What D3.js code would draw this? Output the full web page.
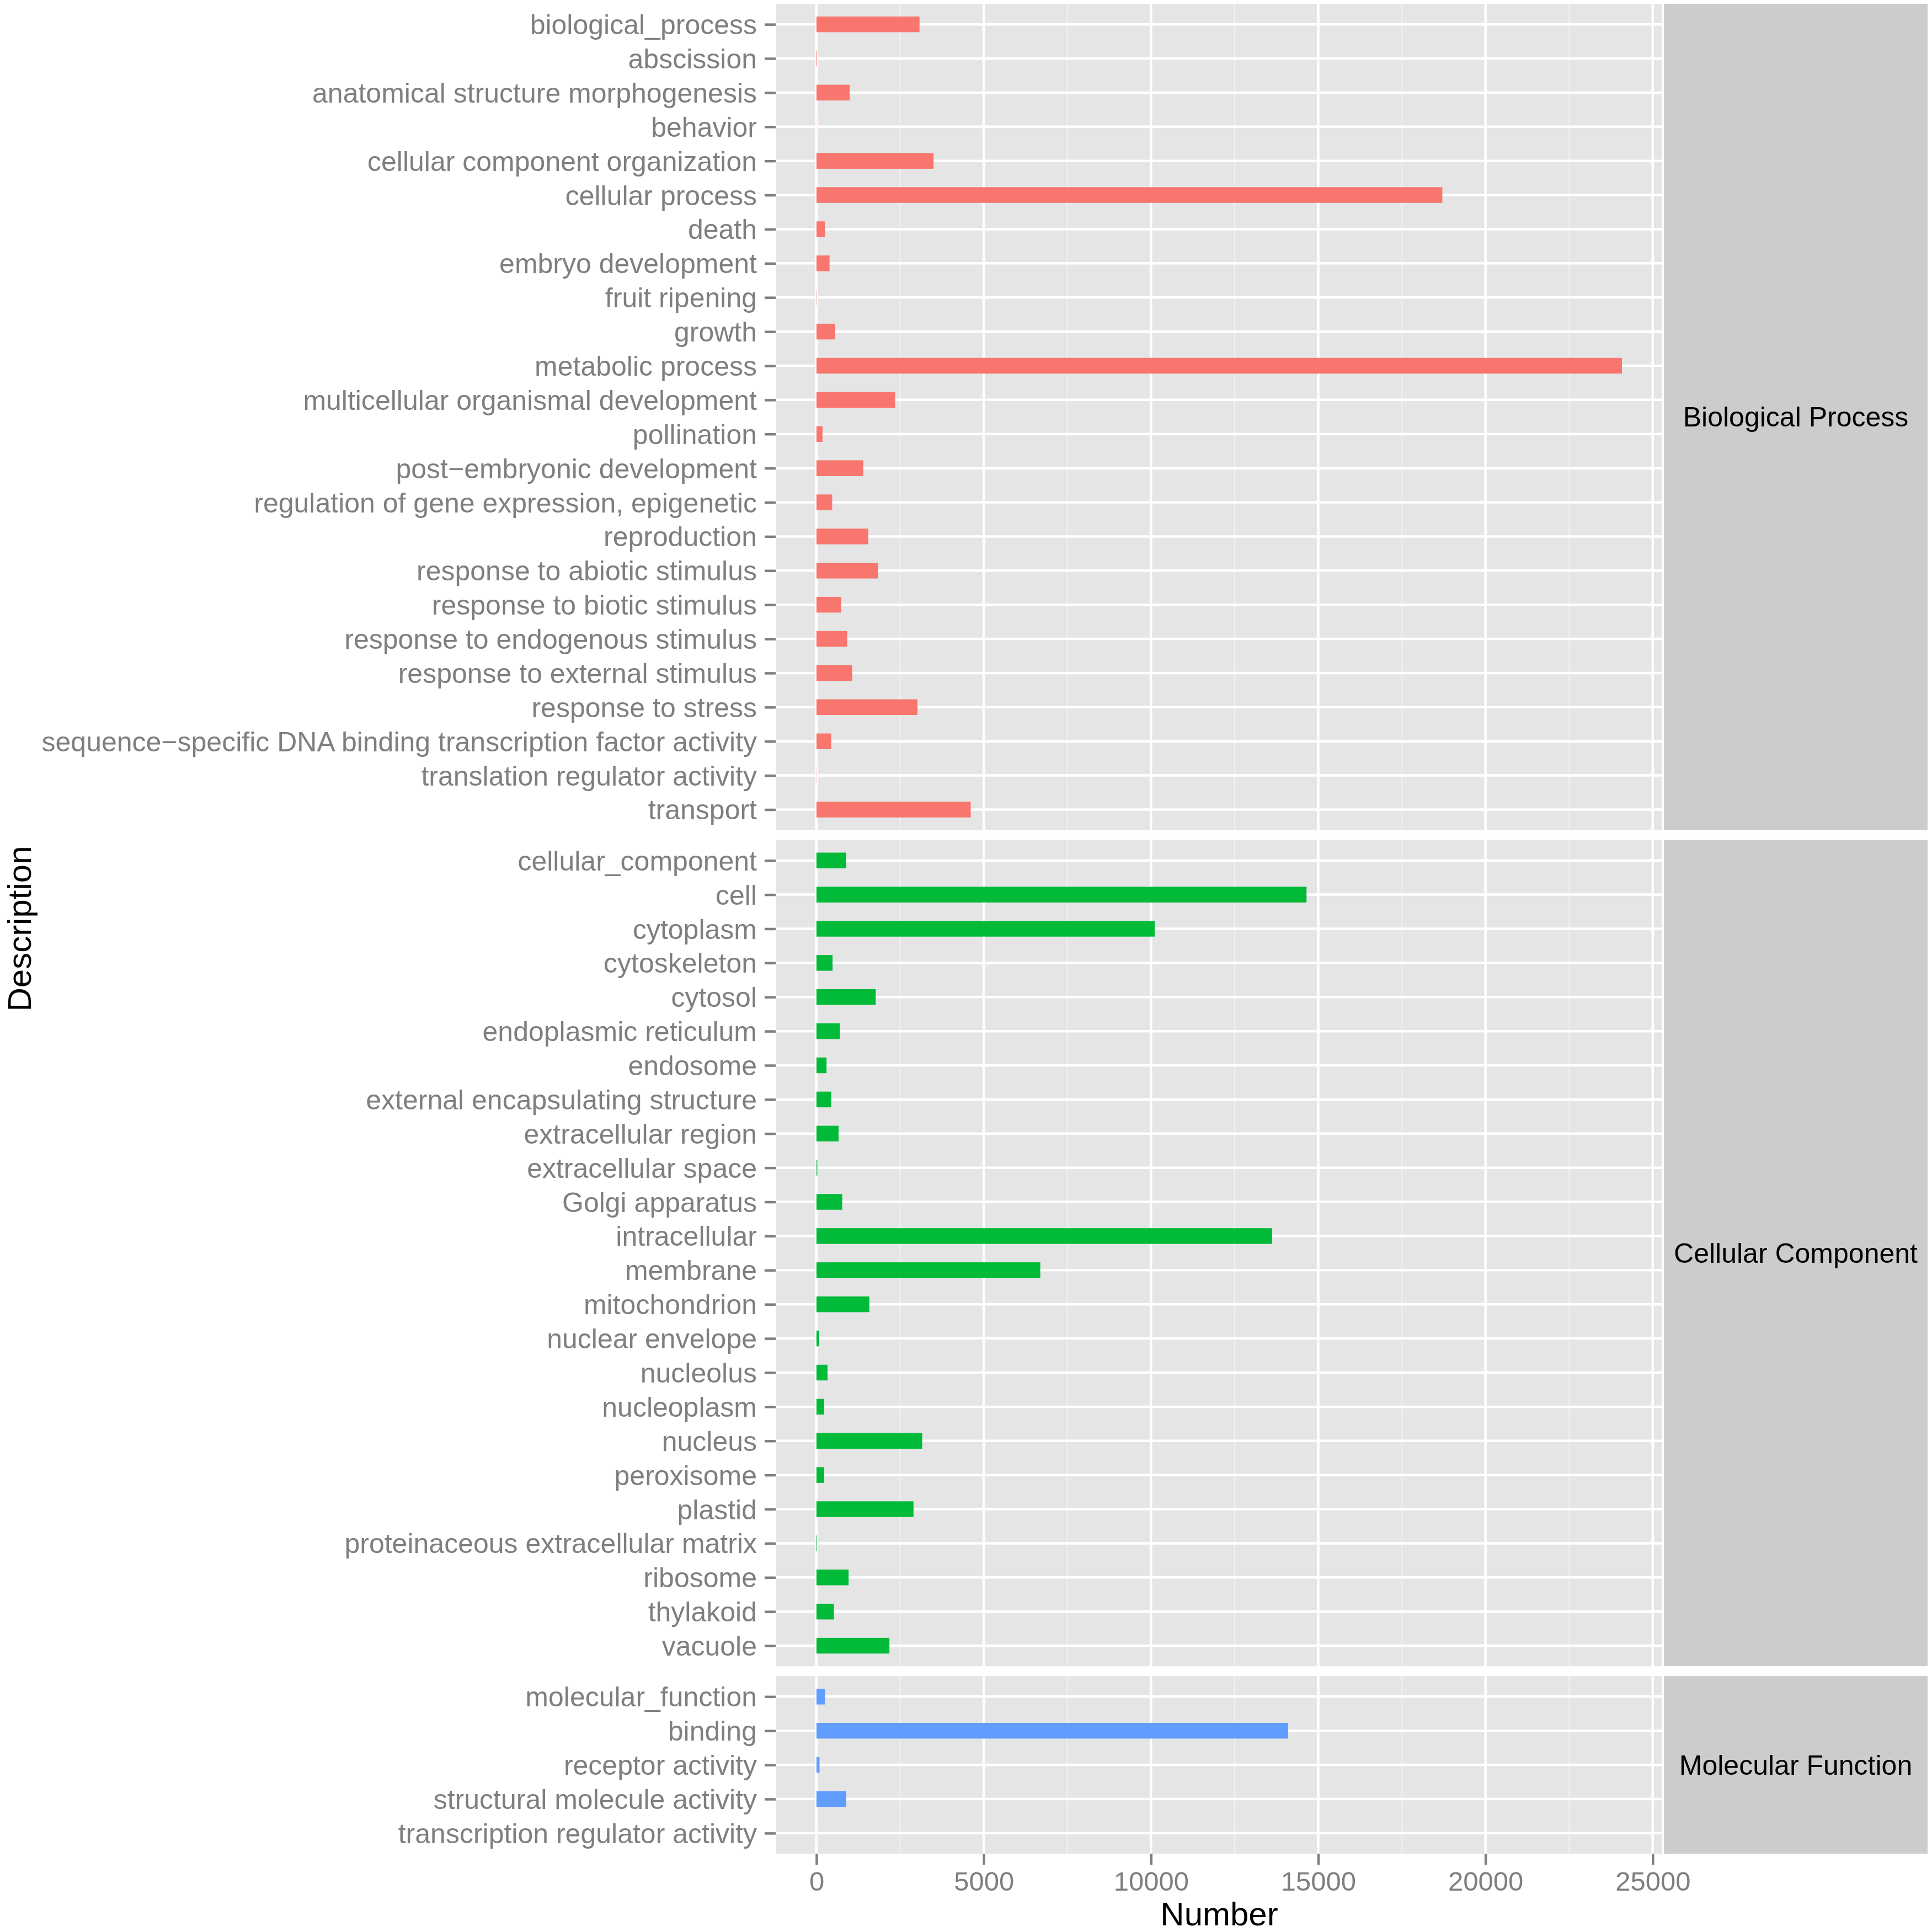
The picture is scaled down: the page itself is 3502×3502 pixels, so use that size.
<!DOCTYPE html>
<html><head><meta charset="utf-8">
<script src="https://cdn.jsdelivr.net/npm/d3@7"></script>
<style>html,body{margin:0;padding:0;background:#fff}</style>
</head><body>
<svg id="chart" width="3502" height="3502"></svg>
<script>
const ontologies = ["Biological Process", "Cellular Component", "Molecular Function"];
const ontologyColors = ["#F8766D", "#00BA38", "#619CFF"];

const bpTerms = ["biological_process","abscission","anatomical structure morphogenesis","behavior","cellular component organization","cellular process","death","embryo development","fruit ripening","growth","metabolic process","multicellular organismal development","pollination","post\u2212embryonic development","regulation of gene expression, epigenetic","reproduction","response to abiotic stimulus","response to biotic stimulus","response to endogenous stimulus","response to external stimulus","response to stress","sequence\u2212specific DNA binding transcription factor activity","translation regulator activity","transport"];
const bpValues = [3080,15,990,3,3500,18710,250,390,8,560,24080,2350,180,1400,470,1550,1840,740,920,1070,3020,440,5,4610];

const ccTerms = ["cellular_component","cell","cytoplasm","cytoskeleton","cytosol","endoplasmic reticulum","endosome","external encapsulating structure","extracellular region","extracellular space","Golgi apparatus","intracellular","membrane","mitochondrion","nuclear envelope","nucleolus","nucleoplasm","nucleus","peroxisome","plastid","proteinaceous extracellular matrix","ribosome","thylakoid","vacuole"];
const ccValues = [890,14650,10110,480,1770,700,300,440,660,25,770,13620,6690,1580,80,330,230,3160,230,2900,15,960,520,2180];

const mfTerms = ["molecular_function","binding","receptor activity","structural molecule activity","transcription regulator activity"];
const mfValues = [250,14100,90,890,2];

const xTicks = [0,5000,10000,15000,20000,25000];
const xMinor = [2500,7500,12500,17500,22500];

const groups = [
  {name: ontologies[0], terms: bpTerms, values: bpValues, color: ontologyColors[0]},
  {name: ontologies[1], terms: ccTerms, values: ccValues, color: ontologyColors[1]},
  {name: ontologies[2], terms: mfTerms, values: mfValues, color: ontologyColors[2]}
];

const svg = d3.select("#chart");
const FONT = "'Liberation Sans', Arial, Helvetica, sans-serif";
const L = 1407, R = 3013, TOP = 7, BOTTOM = 3360, GAP = 18;
const stripX0 = 3016, stripX1 = 3494;

const maxV = d3.max(groups.flatMap(g => g.values));
const x = d3.scaleLinear().domain([-0.05 * maxV, 1.05 * maxV]).range([L, R]);

const totalUnits = d3.sum(groups, g => g.terms.length - 1 + 1.2);
const unit = (BOTTOM - TOP - GAP * (groups.length - 1)) / totalUnits;

let yCursor = TOP;
groups.forEach(g => {
  const h = (g.terms.length - 1 + 1.2) * unit;
  const y0 = yCursor, y1 = yCursor + h;
  yCursor = y1 + GAP;
  const y = d3.scalePoint().domain(g.terms).range([y0, y1]).padding(0.6);
  const panel = svg.append("g");
  panel.append("rect").attr("x", L).attr("y", y0).attr("width", R - L).attr("height", h).attr("fill", "#E5E5E5");
  panel.selectAll(".minor").data(xMinor).enter().append("line")
    .attr("x1", d => x(d)).attr("x2", d => x(d)).attr("y1", y0).attr("y2", y1)
    .attr("stroke", "#F2F2F2").attr("stroke-width", 2);
  panel.selectAll(".majorx").data(xTicks).enter().append("line")
    .attr("x1", d => x(d)).attr("x2", d => x(d)).attr("y1", y0).attr("y2", y1)
    .attr("stroke", "#FFFFFF").attr("stroke-width", 4.5);
  panel.selectAll(".majory").data(g.terms).enter().append("line")
    .attr("x1", L).attr("x2", R).attr("y1", d => y(d)).attr("y2", d => y(d))
    .attr("stroke", "#FFFFFF").attr("stroke-width", 4.5);
  const bh = unit * 0.46;
  panel.selectAll(".bar").data(g.terms.map((t, i) => ({t, v: g.values[i]}))).enter().append("rect")
    .attr("x", x(0)).attr("y", d => y(d.t) - bh / 2)
    .attr("width", d => Math.max(0, x(d.v) - x(0))).attr("height", bh)
    .attr("fill", g.color);
  const yAxis = d3.axisLeft(y).tickSize(20).tickPadding(14);
  const ag = svg.append("g").attr("transform", `translate(${L - 1},0)`).call(yAxis);
  ag.select(".domain").remove();
  ag.selectAll(".tick line").attr("stroke", "#7F7F7F").attr("stroke-width", 4.5);
  ag.selectAll(".tick text").attr("fill", "#7F7F7F").attr("font-size", 50).attr("font-family", FONT).attr("dy", "0.35em");
  svg.append("rect").attr("x", stripX0).attr("y", y0).attr("width", stripX1 - stripX0).attr("height", h).attr("fill", "#CCCCCC");
  svg.append("text").attr("x", (stripX0 + stripX1) / 2).attr("y", (y0 + y1) / 2).attr("dy", "0.35em")
    .attr("text-anchor", "middle").attr("font-size", 50).attr("font-family", FONT).attr("fill", "#000")
    .text(g.name);
});

const xAxis = d3.axisBottom(x).tickValues(xTicks).tickSize(20).tickPadding(12).tickFormat(d3.format("d"));
const xg = svg.append("g").attr("transform", `translate(0,${BOTTOM})`).call(xAxis);
xg.select(".domain").remove();
xg.selectAll(".tick line").attr("stroke", "#7F7F7F").attr("stroke-width", 4.5);
xg.selectAll(".tick text").attr("fill", "#7F7F7F").attr("font-size", 49).attr("font-family", FONT);

svg.append("text").attr("x", (L + R) / 2).attr("y", 3490).attr("text-anchor", "middle")
  .attr("font-size", 60).attr("font-family", FONT).attr("fill", "#000").text("Number");
svg.append("text").attr("transform", `translate(56,${(TOP + BOTTOM) / 2}) rotate(-90)`).attr("text-anchor", "middle")
  .attr("font-size", 60).attr("font-family", FONT).attr("fill", "#000").text("Description");
</script>
</body></html>
